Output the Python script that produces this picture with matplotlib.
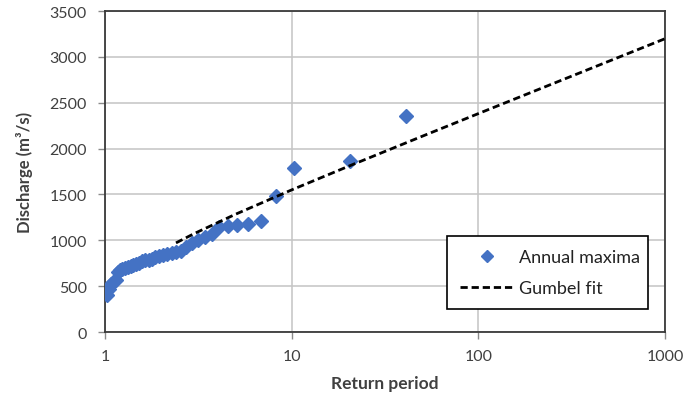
import numpy as np
import matplotlib
matplotlib.use("Agg")
import matplotlib.pyplot as plt
from matplotlib.ticker import FixedLocator, NullLocator, FixedFormatter

# Data
return_period = [1.025, 1.05, 1.08, 1.11, 1.14, 1.17, 1.21, 1.24, 1.28, 1.32,
                 1.37, 1.41, 1.46, 1.52, 1.58, 1.64, 1.71, 1.78, 1.86, 1.95,
                 2.05, 2.16, 2.28, 2.41, 2.56, 2.73, 2.93, 3.15, 3.42, 3.73,
                 4.1, 4.56, 5.125, 5.86, 6.83, 8.2, 10.25, 20.5, 41.0]
discharge = [400, 470, 520, 545, 570, 650, 680, 690, 700, 710,
             725, 735, 745, 755, 770, 780, 790, 800, 815, 825,
             840, 855, 865, 870, 885, 930, 970, 1000, 1040, 1070,
             1140, 1160, 1170, 1180, 1215, 1480, 1790, 1870, 2360]

# Gumbel fit parameters (location, scale) and plotted range
gumbel_u = 753.0
gumbel_alpha = 354.0
fit_T = [2.4, 3, 5, 10, 20, 50, 100, 200, 500, 1000]

x_ticks = [1, 10, 100, 1000]
x_tick_labels = ["1", "10", "100", "1000"]
y_ticks = [0, 500, 1000, 1500, 2000, 2500, 3000, 3500]

fit_T_arr = np.array(fit_T, dtype=float)
fit_Q = gumbel_u - gumbel_alpha * np.log(-np.log(1 - 1 / fit_T_arr))

plt.rcParams['font.family'] = ['Lato', 'DejaVu Sans']
txt = '#404040'

fig = plt.figure(figsize=(6.86, 4.02), dpi=100)
ax = fig.add_axes([0.1531, 0.1716, 0.8163, 0.7985])

ax.plot(return_period, discharge, linestyle='none', marker='D', ms=7,
        color='#4472C4', mec='#4472C4', label='Annual maxima', zorder=3)
ax.plot(fit_T_arr, fit_Q, color='black', lw=2.0, dashes=(2.6, 1.4),
        label='Gumbel fit', zorder=4)

ax.set_xscale('log')
ax.set_xlim(1, 1000)
ax.set_ylim(0, 3500)
ax.xaxis.set_major_locator(FixedLocator(x_ticks))
ax.xaxis.set_major_formatter(FixedFormatter(x_tick_labels))
ax.xaxis.set_minor_locator(NullLocator())
ax.set_yticks(y_ticks)

ax.grid(True, which='major', color='#c4c4c4', lw=1.1)
ax.set_axisbelow(True)
for s in ax.spines.values():
    s.set_color('#3a3a3a')
    s.set_linewidth(1.3)

ax.tick_params(axis='both', colors='#8a8a8a', length=5, width=1,
               labelcolor=txt, labelsize=11.5)
ax.tick_params(axis='x', pad=7)
ax.tick_params(axis='y', pad=8)

ax.set_xlabel('Return period', fontsize=12.5, fontweight='bold', color=txt, labelpad=9)
ax.set_ylabel('Discharge (m³/s)', fontsize=12, fontweight='bold', color=txt, labelpad=12)

leg = ax.legend(loc='lower left', bbox_to_anchor=(0.611, 0.072, 0.359, 0.227),
                mode='expand', borderaxespad=0, fancybox=False, edgecolor='black',
                framealpha=1, fontsize=13, handlelength=3.0, labelspacing=0.85,
                borderpad=0.7, handletextpad=0.3, markerscale=0.9)
leg.get_frame().set_linewidth(1.2)
for t in leg.get_texts():
    t.set_color('#222222')

fig.savefig('out.png', dpi=100)
